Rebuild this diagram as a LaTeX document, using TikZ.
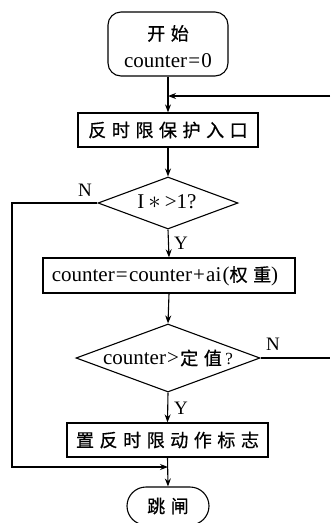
\documentclass[tikz,border=0pt]{standalone}
\usepackage{fontspec}
\setmainfont{Liberation Serif}
\newfontfamily\cjk[Scale=0.86,FakeBold=0.6]{Noto Sans CJK SC}
\usetikzlibrary{shapes.geometric,shapes.misc,arrows.meta}
\newcommand\gp{\hspace{5.5pt}}
\newcommand\ts{\hspace{1.2pt}}
\begin{document}
\begin{tikzpicture}[x=1pt,y=-1pt,
  every node/.style={font=\fontsize{21}{27}\selectfont},
  boxst/.style={draw,line width=1.3pt,rectangle,inner sep=0pt},
  termst/.style={draw,line width=1.1pt,rectangle,rounded corners=13pt,inner sep=0pt,align=center},
  endst/.style={draw,line width=1.1pt,rounded rectangle,inner sep=0pt},
  decst/.style={draw,line width=1.1pt,diamond,inner sep=0pt},
  lab/.style={inner sep=0pt,font=\fontsize{19}{20}\selectfont},
  conn/.style={line width=1.1pt},
  arr/.style={conn,-{Stealth[length=8pt,width=6pt]}}]
\useasboundingbox (0,0) rectangle (330,523);
\node[termst,minimum width=120pt,minimum height=64pt] (start) at (168,44) {};
\node[inner sep=0pt,align=center] (startt) at (168,46.5) {{\cjk 开\gp 始}\\[0.5pt]counter\ts=\ts 0};
\node[boxst,minimum width=180pt,minimum height=34pt] (b1) at (168,130) {\cjk 反\gp 时\gp 限\gp 保\gp 护\gp 入\gp 口};
\node[decst,minimum width=140pt,minimum height=52pt] (d1) at (168,203) {};
\node[inner sep=0pt] (d1t) at (167,202) {I\hspace{4pt}{\fontsize{24}{24}\selectfont$\ast$}\hspace{4pt}>1?};
\node[boxst,minimum width=252pt,minimum height=35pt] (b2) at (169,275.5) {};
\node[inner sep=0pt] (b2t) at (165,276) {counter\ts=\ts counter\ts+\ts ai\ts({\cjk 权\gp 重})};
\node[decst,minimum width=184pt,minimum height=68pt] (d2) at (168,358) {};
\node[inner sep=0pt] (d2t) at (168,358) {counter\ts>\ts{\cjk 定\gp 值}\,{\fontsize{17}{18}\selectfont ?}};
\node[boxst,minimum width=201pt,minimum height=34pt] (b3) at (167.5,440) {\cjk 置\gp 反\gp 时\gp 限\gp 动\gp 作\gp 标\gp 志};
\node[endst,minimum width=82pt,minimum height=38pt] (end) at (168,506) {\cjk 跳\gp 闸};
\node[lab] (n1) at (85,190) {N};
\node[lab] (n2) at (273,344) {N};
\node[lab] (y1) at (181,243) {Y};
\node[lab] (y2) at (181,408) {Y};
\coordinate (fbR) at (330,96);
\coordinate (fbM) at (168,96);
\coordinate (l1) at (12,203);
\coordinate (l2) at (12,467);
\coordinate (mg) at (168,467);
\coordinate (r1) at (330,358);
\draw[arr] (start.south) -- (b1.north);
\draw[arr] (fbR) -- (fbM);
\draw[arr] (b1.south) -- (d1.north);
\draw[arr] (d1.south) -- (b2.north);
\draw[arr] (b2.south) -- (d2.north);
\draw[arr] (d2.south) -- (b3.north);
\draw[arr] (b3.south) -- (end.north);
\draw[arr] (d1.west) -- (l1) -- (l2) -- (mg);
\draw[conn] (d2.east) -- (r1);
\end{tikzpicture}
\end{document}
